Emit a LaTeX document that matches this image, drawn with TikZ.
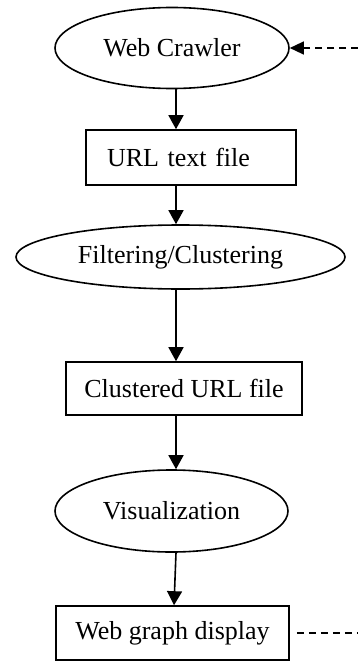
\documentclass[tikz,border=0pt]{standalone}
\usepackage{fontspec}
\setmainfont{Liberation Serif}
\usetikzlibrary{shapes.geometric,arrows.meta}

\begin{document}
\begin{tikzpicture}[x=1pt,y=-1pt,
  every node/.style={font=\fontsize{26}{30}\selectfont, inner sep=0pt},
  oval/.style={draw, ellipse, line width=1.6pt},
  box/.style={draw, rectangle, line width=1.6pt},
  arr/.style={line width=1.6pt, -{Triangle[length=14pt,width=15pt]}},
  dashline/.style={line width=1.3pt, dash pattern=on 7pt off 5pt}
]
\useasboundingbox (0,0) rectangle (358,661);

% process stages
\node[oval, minimum width=234pt, minimum height=81pt] (crawler) at (172,48) {Web Crawler};
\node[box, minimum width=210pt, minimum height=55pt, text width=168pt, align=left] (urlfile) at (191,157.5) {URL text file};
\node[oval, minimum width=329pt, minimum height=64pt] (filter) at (180.5,257) {Filtering/Clustering};
\node[box, minimum width=236pt, minimum height=53pt] (clustered) at (184,388.5) {Clustered URL file};
\node[oval, minimum width=233pt, minimum height=82pt] (vis) at (171.5,511) {Visualization};
\node[box, minimum width=233pt, minimum height=54pt] (display) at (172.5,633) {Web graph display};

% main flow
\draw[arr] (176,0 |- crawler.south) -- (176,0 |- urlfile.north);
\draw[arr] (176,0 |- urlfile.south) -- (176,0 |- filter.north);
\draw[arr] (176,0 |- filter.south) -- (176,0 |- clustered.north);
\draw[arr] (176,0 |- clustered.south) -- (176,0 |- vis.north);
\draw[arr] (176,0 |- vis.south) -- (174,0 |- display.north);

% feedback loop leaving the frame on the right
\coordinate (fbout) at (358,633);
\coordinate (fbin) at (358,48);
\draw[dashline] ([xshift=7pt]display.east) -- (fbout);
\draw[dashline, -{Triangle[length=14pt,width=13pt]}] (fbin) -- (crawler.east);
\end{tikzpicture}
\end{document}
